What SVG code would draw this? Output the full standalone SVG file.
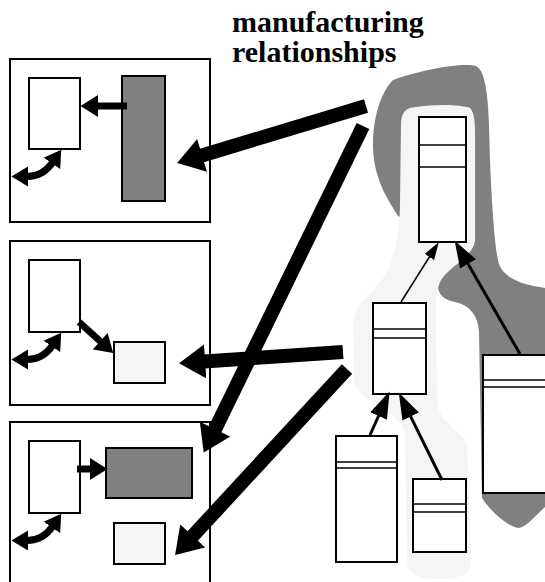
<svg xmlns="http://www.w3.org/2000/svg" width="545" height="582" viewBox="0 0 545 582">
<style>
.panel{fill:#fff;stroke:#000;stroke-width:2}
.box{fill:#fff;stroke:#000;stroke-width:2}
.dark{fill:#808080;stroke:#000;stroke-width:2}
.light{fill:#f5f5f5;stroke:#000;stroke-width:2}
.sep{stroke:#000;stroke-width:1.5}
.big{stroke:#000;stroke-width:14;fill:none;marker-end:url(#bigHead)}
.small{stroke:#000;stroke-width:7;fill:none;marker-end:url(#smallHead)}
.curve{stroke:#000;stroke-width:7;fill:none;marker-start:url(#curveHead);marker-end:url(#curveHead)}
.thin{stroke:#000;stroke-width:1.5;fill:none;marker-end:url(#thinHead)}
.thick{stroke:#000;stroke-width:3;fill:none;marker-end:url(#thickHead)}
.title{font-family:"Liberation Serif","Times New Roman",serif;font-weight:bold;font-size:30px;fill:#000}
</style>
<defs>
<marker id="bigHead" markerUnits="userSpaceOnUse" markerWidth="30" markerHeight="34" refX="1" refY="15" orient="auto" viewBox="0 0 26 30"><path d="M0,0 L23,15 L0,30 Z" fill="#000"/></marker>
<marker id="smallHead" markerUnits="userSpaceOnUse" markerWidth="20" markerHeight="22" refX="1" refY="10" orient="auto" viewBox="0 0 18 20"><path d="M0,0 L16,10 L0,20 Z" fill="#000"/></marker>
<marker id="curveHead" markerUnits="userSpaceOnUse" markerWidth="20" markerHeight="22" refX="1" refY="9" orient="auto-start-reverse" viewBox="0 0 18 18"><path d="M0,0 L15,9 L0,18 Z" fill="#000"/></marker>
<marker id="thinHead" markerUnits="userSpaceOnUse" markerWidth="20" markerHeight="12" refX="1" refY="5" orient="auto" viewBox="0 0 18 10"><path d="M0,0 L16,5 L0,10 Z" fill="#000"/></marker>
<marker id="thickHead" markerUnits="userSpaceOnUse" markerWidth="28" markerHeight="19" refX="1" refY="8.5" orient="auto" viewBox="0 0 26 17"><path d="M0,0 L25,8.5 L0,17 Z" fill="#000"/></marker>
</defs>
<rect width="545" height="582" fill="#fff"/>
<g id="title">
<text class="title" x="232" y="32">manufacturing</text>
<text class="title" x="232" y="62">relationships</text>
</g>
<g id="regions">
<path id="dark-region" fill="#808080" d="M393,80 C420,70 462,62 476,66 C488,72 489,110 490,160 C492,210 495,250 499,264 C505,280 525,285 545,288 L545,507 C536,515 526,528 518,528 C505,525 490,510 482,498 L479,332 C478,316 470,305 455,302 C441,300 435,290 439,278 C444,268 460,260 470,250 L430,230 L398,216 C388,200 378,185 374,160 C370,130 378,95 393,80 Z"/>
<path id="light-region" fill="#f5f5f5" d="M410,108 C430,104 460,104 470,108 C476,114 475,130 475,150 L475,240 C474,256 450,266 441,280 C436,290 436,300 436,320 L437,402 C440,425 462,430 467,445 L471,562 C471,576 456,579 440,579 C421,579 408,576 407,562 L405,432 C400,412 360,402 354,382 L353,322 C356,300 385,286 391,262 C398,242 400,222 400,202 L401,124 C401,115 404,110 410,108 Z"/>
</g>
<g id="panel1">
<rect class="panel" x="10" y="59" width="200" height="163"/>
<rect class="box" x="29" y="78" width="51" height="71"/>
<rect class="dark" x="122" y="76" width="43" height="125"/>
<line class="small" x1="127" y1="106" x2="97" y2="106"/>
<path class="curve" d="M27,176.5 Q43,176.5 52.5,162.5"/>
</g>
<g id="panel2">
<rect class="panel" x="10" y="241" width="200" height="164"/>
<rect class="box" x="29" y="260" width="51" height="72"/>
<rect class="light" x="114" y="342" width="51" height="41"/>
<line class="small" x1="79" y1="322" x2="101" y2="342"/>
<path class="curve" d="M27,359.5 Q43,359.5 52.5,345.5"/>
</g>
<g id="panel3">
<rect class="panel" x="10" y="422" width="200" height="170"/>
<rect class="box" x="29" y="441" width="51" height="72"/>
<rect class="dark" x="106" y="448" width="86" height="50"/>
<rect class="light" x="114" y="523" width="51" height="41"/>
<line class="small" x1="77" y1="469" x2="91" y2="469"/>
<path class="curve" d="M27,540.5 Q43,540.5 52.5,526.5"/>
</g>
<g id="node-top">
<rect class="box" x="419" y="117" width="47" height="125"/>
<line class="sep" x1="419" y1="145" x2="466" y2="145"/>
<line class="sep" x1="419" y1="167" x2="466" y2="167"/>
</g>
<g id="node-middle">
<rect class="box" x="373" y="303" width="53" height="91"/>
<line class="sep" x1="373" y1="329" x2="426" y2="329"/>
<line class="sep" x1="373" y1="338" x2="426" y2="338"/>
</g>
<g id="node-bottom-left">
<rect class="box" x="336" y="436" width="61" height="126"/>
<line class="sep" x1="336" y1="462" x2="397" y2="462"/>
<line class="sep" x1="336" y1="468" x2="397" y2="468"/>
</g>
<g id="node-bottom-right">
<rect class="box" x="413" y="479" width="53" height="73"/>
<line class="sep" x1="413" y1="504" x2="466" y2="504"/>
<line class="sep" x1="413" y1="512" x2="466" y2="512"/>
</g>
<g id="node-right">
<rect class="box" x="483" y="355" width="80" height="138"/>
<line class="sep" x1="483" y1="380" x2="563" y2="380"/>
<line class="sep" x1="483" y1="387" x2="563" y2="387"/>
</g>
<g id="connectors">
<line class="thin" x1="401" y1="302" x2="430" y2="256"/>
<line class="thick" x1="520" y1="354" x2="467.5" y2="263"/>
<line class="thick" x1="370" y1="435" x2="379" y2="415"/>
<line class="thick" x1="442" y1="480" x2="410.2" y2="415.6"/>
<line class="big" x1="366" y1="106" x2="201" y2="155.7"/>
<line class="big" x1="363" y1="126" x2="214.6" y2="430.2"/>
<line class="big" x1="343" y1="352" x2="204" y2="361.5"/>
<line class="big" x1="347" y1="369" x2="192" y2="536.8"/>
</g>
</svg>
